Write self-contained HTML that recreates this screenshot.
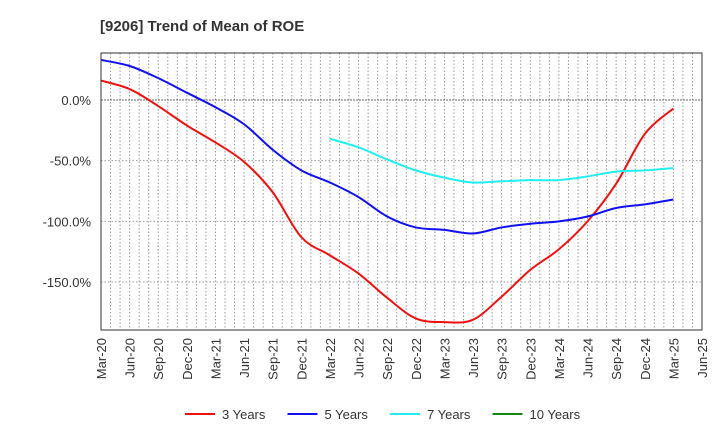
<!DOCTYPE html>
<html><head><meta charset="utf-8"><style>
body{margin:0;background:#fff;font-family:"Liberation Sans",sans-serif;}
svg text{font-family:"Liberation Sans",sans-serif;}
</style></head><body>
<svg id="c" width="720" height="440" xmlns="http://www.w3.org/2000/svg">
<text x="100" y="31" font-size="15" font-weight="bold" fill="#333">[9206]  Trend of Mean of ROE</text>
<g id="grid"></g><g id="series"></g><g id="axes"></g><g id="legend"></g>
</svg>
<script>
const xLabels=["Mar-20","Jun-20","Sep-20","Dec-20","Mar-21","Jun-21","Sep-21","Dec-21","Mar-22","Jun-22","Sep-22","Dec-22","Mar-23","Jun-23","Sep-23","Dec-23","Mar-24","Jun-24","Sep-24","Dec-24","Mar-25","Jun-25"];
const yTicks=[0,-50,-100,-150];
const s3=[16,9,-5,-21,-35,-51,-76,-113,-128,-143,-163,-180,-183,-181,-162,-140,-123,-100,-69,-28,-7];
const s5=[33,28,18,6,-6,-20,-41,-58,-68,-80,-96,-105,-107,-110,-105,-102,-100,-96,-89,-86,-82];
const s7=[null,null,null,null,null,null,null,null,-32,-39,-49,-58,-64,-68,-67,-66,-66,-63,-59,-58,-56];
const s10=[];
const L=101,R=702,T=53,B=330,yMax=38.7,yMin=-189.5;
const X=i=>L+i*(R-L)/21;
const Y=v=>T+(yMax-v)/(yMax-yMin)*(B-T);
const NS="http://www.w3.org/2000/svg";
function mk(tag,attrs,parent){const e=document.createElementNS(NS,tag);for(const k in attrs)e.setAttribute(k,attrs[k]);parent.appendChild(e);return e;}
const grid=document.getElementById('grid'),axes=document.getElementById('axes'),ser=document.getElementById('series'),leg=document.getElementById('legend');
for(let m=1;m<63;m++){const x=L+m*(R-L)/63;const g=mk('line',{x1:x,x2:x,y1:T,y2:B,stroke:'#999','stroke-dasharray':'1.5,2','stroke-width':1},grid);

}
yTicks.forEach(v=>{const y=Y(v);const g=mk('line',{x1:L,x2:R,y1:y,y2:y,stroke:v===0?'#666':'#999','stroke-dasharray':v===0?'2,1':'1.5,2'},grid);


const t=mk('text',{x:L-10,y:y+5,'text-anchor':'end','font-size':13,fill:'#333'},axes);t.textContent=v.toFixed(1)+'%';

});
const fr=mk('rect',{x:L,y:T,width:R-L,height:B-T,fill:'none',stroke:'#333'},axes);


xLabels.forEach((lab,i)=>{const x=X(i);const t=mk('text',{x:0,y:0,'text-anchor':'end','font-size':13,fill:'#333',transform:`translate(${x+5},${B+8}) rotate(-90)`},axes);t.textContent=lab;

});
function path(arr){const p=[];arr.forEach((v,i)=>{if(v!=null)p.push([X(i),Y(v)]);});if(p.length<2)return'';
let d=`M${p[0][0]},${p[0][1]}`;for(let i=0;i<p.length-1;i++){const p0=p[i-1]||p[i],p1=p[i],p2=p[i+1],p3=p[i+2]||p2;
d+=`C${p1[0]+(p2[0]-p0[0])/6},${p1[1]+(p2[1]-p0[1])/6} ${p2[0]-(p3[0]-p1[0])/6},${p2[1]-(p3[1]-p1[1])/6} ${p2[0]},${p2[1]}`;}return d;}
const defs=[[s3,'#ee1111','3 Years','line-3-years'],[s5,'#1111ee','5 Years','line-5-years'],[s7,'#22eeee','7 Years','line-7-years'],[s10,'#118811','10 Years','line-10-years']];
defs.forEach((d,k)=>{const dp=path(d[0]);if(dp){const e=mk('path',{d:dp,fill:'none',stroke:d[1],'stroke-width':2},ser);

}
const lx=185+k*102.5;const g=mk('g',{},leg);


mk('line',{x1:lx,x2:lx+30,y1:414,y2:414,stroke:d[1],'stroke-width':2},g);
const t=mk('text',{x:lx+37,y:419,'font-size':13,fill:'#333'},g);t.textContent=d[2];});
</script>
</body></html>
